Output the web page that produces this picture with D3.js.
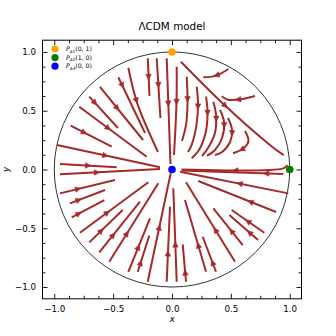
<!DOCTYPE html>
<html>
<head>
<meta charset="utf-8">
<script src="https://cdn.jsdelivr.net/npm/d3@7"></script>
<style>
  body { margin: 0; background: #fff; }
  svg { font-family: "DejaVu Sans", sans-serif; }
</style>
</head>
<body>
<svg id="vis-svg"></svg>
<script>
// critical points of the model
const pointLabels = ["a1", "a2", "a3"];
const pointX = [0, 1, 0];
const pointY = [1, 0, 0];
const pointColors = ["orange", "green", "blue"];

const majorTicks = [-1.0, -0.5, 0.0, 0.5, 1.0];
const minorTicks = d3.range(-8, 9).map(i => i * 0.125).filter(v => Math.abs(v * 2 - Math.round(v * 2)) > 1e-9);

// streamlines, flow goes from first to last point
const streamlines = [
    // upper left fan
    [[-0.977, 0.208], [-0.102, 0.019]],
    [[-0.861, 0.373], [-0.512, 0.194]],
    [[-0.788, 0.534], [-0.215, 0.109]],
    [[-0.703, 0.620], [-0.459, 0.353]],
    [[-0.612, 0.702], [-0.246, 0.251]],
    [[-0.456, 0.785], [-0.229, 0.311]],
    [[-0.371, 0.866], [-0.295, 0.563], [-0.119, 0.149]],
    [[-0.206, 0.946], [-0.191, 0.626]],
    [[-0.130, 0.946], [-0.098, 0.438]],
    [[-0.045, 0.946], [-0.013, 0.047]],
    // left, near y = 0
    [[-0.952, 0.047], [-0.470, 0.019]],
    [[-0.952, -0.041], [-0.102, 0.004]],
    // lower left fan
    [[-0.952, -0.203], [-0.484, -0.089]],
    [[-0.867, -0.288], [-0.569, -0.174]],
    [[-0.852, -0.407], [-0.575, -0.260]],
    [[-0.782, -0.538], [-0.201, -0.109]],
    [[-0.703, -0.620], [-0.419, -0.345]],
    [[-0.618, -0.705], [-0.272, -0.274]],
    [[-0.533, -0.785], [-0.116, -0.117]],
    [[-0.371, -0.870], [-0.187, -0.415]],
    [[-0.291, -0.870], [-0.193, -0.563]],
    [[-0.206, -0.955], [-0.011, -0.032]],
    [[-0.045, -0.955], [-0.017, -0.317]],
    // lower right fan
    [[0.040, -0.955], [0.011, -0.160]],
    [[0.119, -0.955], [0.091, -0.637]],
    [[0.289, -0.870], [0.110, -0.260]],
    [[0.374, -0.870], [0.261, -0.572]],
    [[0.535, -0.785], [0.119, -0.109]],
    [[0.601, -0.643], [0.351, -0.330]],
    [[0.731, -0.600], [0.487, -0.387]],
    [[0.784, -0.538], [0.507, -0.345]],
    [[0.884, -0.362], [0.223, -0.098]],
    [[0.988, -0.203], [0.068, -0.019]],
    // right, near y = 0
    [[0.980, 0.038], [0.946, 0.010], [0.082, 0.000]],
    [[0.946, -0.038], [0.082, -0.009]],
    // upper right
    [[0.076, 0.917], [0.439, 0.555], [0.850, 0.194], [0.949, 0.123]],
    [[0.478, 0.855], [0.408, 0.813], [0.340, 0.790], [0.266, 0.785]],
    [[0.705, 0.626], [0.578, 0.597], [0.476, 0.594], [0.422, 0.623]],
    [[0.040, 0.875], [0.038, 0.566], [0.017, 0.123]],
    [[0.125, 0.790], [0.132, 0.566], [0.119, 0.379], [0.085, 0.243]],
    [[0.210, 0.705], [0.221, 0.566], [0.208, 0.379], [0.167, 0.209], [0.136, 0.149]],
    [[0.289, 0.620], [0.302, 0.489], [0.285, 0.311], [0.229, 0.166], [0.167, 0.095]],
    [[0.351, 0.577], [0.374, 0.464], [0.365, 0.311], [0.306, 0.183], [0.255, 0.115]],
    [[0.408, 0.506], [0.442, 0.404], [0.425, 0.268], [0.365, 0.166], [0.297, 0.115]],
    [[0.476, 0.438], [0.510, 0.336], [0.493, 0.234], [0.425, 0.149], [0.365, 0.123]],
    [[0.620, 0.328], [0.650, 0.243], [0.612, 0.183], [0.518, 0.138]]
];

// where the arrow head sits along each streamline (fraction of its length)
const arrowFrac = [
    0.47, 0.33, 0.43, 0.2, 0.4, 0.15, 0.38, 0.5, 0.45, 0.43,
    0.5, 0.37,
    0.33, 0.25, 0.22, 0.4, 0.36, 0.34, 0.36, 0.46, 0.25, 0.5, 0.38,
    0.4, 0.25, 0.37, 0.26, 0.4, 0.38, 0.3, 0.5, 0.33, 0.45,
    0.5, 0.17,
    0.45, 0.5, 0.5, 0.4, 0.35, 0.3, 0.25, 0.3, 0.3, 0.35, 0.7
];

const W = 336, H = 336;
const streamColor = "#a52a2a";

const svg = d3.select("#vis-svg")
    .attr("width", W)
    .attr("height", H);

// Set up scales
const x = d3.scaleLinear().domain([-1.1, 1.1]).range([42.5, 301.5]),
    y = d3.scaleLinear().domain([-1.1, 1.1]).range([298.8, 40.2]);

const fmt = d => d.toFixed(1).replace("-", "\u2212");

// title
svg.append("text")
    .attr("x", x(0))
    .attr("y", 30)
    .attr("text-anchor", "middle")
    .style("font-size", "10.4px")
    .text("\u039bCDM model");

// unit circle
svg.append("ellipse")
    .attr("cx", x(0))
    .attr("cy", y(0))
    .attr("rx", x(1) - x(0))
    .attr("ry", y(0) - y(1))
    .attr("fill", "none")
    .attr("stroke", "black")
    .attr("stroke-width", 0.8);

// streamlines
const line = d3.line()
    .x(d => x(d[0]))
    .y(d => y(d[1]))
    .curve(d3.curveCatmullRom.alpha(0.5));

const streams = svg.append("g");
streamlines.forEach(function (pts, i) {
    const path = streams.append("path")
        .attr("d", line(pts))
        .attr("fill", "none")
        .attr("stroke", streamColor)
        .attr("stroke-width", 2);

    // arrow head
    const node = path.node();
    const len = node.getTotalLength();
    const at = len * arrowFrac[i];
    const p0 = node.getPointAtLength(Math.max(0, at - 0.5));
    const p1 = node.getPointAtLength(Math.min(len, at + 0.5));
    let dx = p1.x - p0.x, dy = p1.y - p0.y;
    const n = Math.hypot(dx, dy) || 1;
    dx /= n; dy /= n;
    const c = node.getPointAtLength(at);
    const hl = 5.6, hw = 2.8;
    const tip = [c.x + dx * hl / 2, c.y + dy * hl / 2];
    const bx = c.x - dx * hl / 2, by = c.y - dy * hl / 2;
    streams.append("path")
        .attr("d", "M" + tip[0] + "," + tip[1] +
            "L" + (bx - dy * hw) + "," + (by + dx * hw) +
            "L" + (bx + dy * hw) + "," + (by - dx * hw) + "Z")
        .attr("fill", streamColor)
        .attr("stroke", streamColor)
        .attr("stroke-width", 0.5);
});

// critical points
svg.append("g").selectAll("circle")
    .data(pointX)
    .enter().append("circle")
    .attr("cx", (d, i) => x(pointX[i]))
    .attr("cy", (d, i) => y(pointY[i]))
    .attr("r", 3.8)
    .attr("fill", (d, i) => pointColors[i]);

// axes
function styleAxis(g) {
    g.selectAll("text")
        .style("font-size", "8.7px")
        .style("font-family", "DejaVu Sans, sans-serif")
        .attr("fill", "black");
    g.selectAll("line").attr("stroke", "black").attr("stroke-width", 0.9);
    g.select(".domain").remove();
}

svg.append("g")
    .attr("transform", "translate(0," + y(-1.1) + ")")
    .call(d3.axisBottom(x).tickValues(majorTicks).tickSize(-5).tickPadding(7).tickFormat(fmt))
    .call(styleAxis);
svg.append("g")
    .attr("transform", "translate(0," + y(-1.1) + ")")
    .call(d3.axisBottom(x).tickValues(minorTicks).tickSize(-3).tickFormat(""))
    .call(styleAxis);
svg.append("g")
    .attr("transform", "translate(0," + y(1.1) + ")")
    .call(d3.axisTop(x).tickValues(majorTicks).tickSize(-5).tickFormat(""))
    .call(styleAxis);
svg.append("g")
    .attr("transform", "translate(0," + y(1.1) + ")")
    .call(d3.axisTop(x).tickValues(minorTicks).tickSize(-3).tickFormat(""))
    .call(styleAxis);

svg.append("g")
    .attr("transform", "translate(" + x(-1.1) + ",0)")
    .call(d3.axisLeft(y).tickValues(majorTicks).tickSize(-5).tickPadding(6.5).tickFormat(fmt))
    .call(styleAxis);
svg.append("g")
    .attr("transform", "translate(" + x(-1.1) + ",0)")
    .call(d3.axisLeft(y).tickValues(minorTicks).tickSize(-3).tickFormat(""))
    .call(styleAxis);
svg.append("g")
    .attr("transform", "translate(" + x(1.1) + ",0)")
    .call(d3.axisRight(y).tickValues(majorTicks).tickSize(-5).tickFormat(""))
    .call(styleAxis);
svg.append("g")
    .attr("transform", "translate(" + x(1.1) + ",0)")
    .call(d3.axisRight(y).tickValues(minorTicks).tickSize(-3).tickFormat(""))
    .call(styleAxis);

// frame
svg.append("rect")
    .attr("x", x(-1.1))
    .attr("y", y(1.1))
    .attr("width", x(1.1) - x(-1.1))
    .attr("height", y(-1.1) - y(1.1))
    .attr("fill", "none")
    .attr("stroke", "black")
    .attr("stroke-width", 1);

// axis labels
svg.append("text")
    .attr("x", x(0))
    .attr("y", 322)
    .attr("text-anchor", "middle")
    .style("font-size", "8.7px")
    .style("font-style", "italic")
    .text("x");
svg.append("text")
    .attr("transform", "translate(9," + y(0) + ") rotate(-90)")
    .attr("text-anchor", "middle")
    .style("font-size", "8.7px")
    .style("font-style", "italic")
    .text("y");

// legend
const legend = svg.append("g");
pointLabels.forEach(function (lab, i) {
    const ly = 49 + i * 8.6;
    legend.append("circle")
        .attr("cx", 55)
        .attr("cy", ly)
        .attr("r", 3.6)
        .attr("fill", pointColors[i]);
    const t = legend.append("text")
        .attr("x", 66)
        .attr("y", ly + 2.2)
        .style("font-size", "6.2px");
    t.append("tspan").style("font-style", "italic").text("P");
    t.append("tspan").attr("dy", 1.3).style("font-size", "4.4px").style("font-style", "italic").text(lab);
    t.append("tspan").attr("dy", -1.3).text("(" + pointX[i] + ", " + pointY[i] + ")");
});
</script>
</body>
</html>
